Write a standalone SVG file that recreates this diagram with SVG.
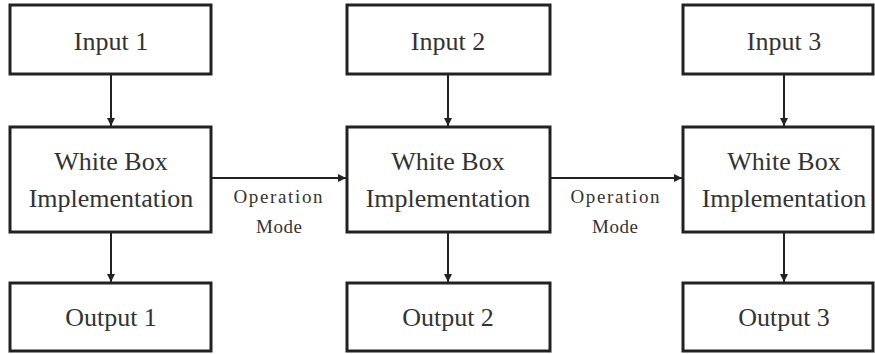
<svg xmlns="http://www.w3.org/2000/svg" width="875" height="354" viewBox="0 0 875 354" font-family="Liberation Serif, DejaVu Serif, serif">
<style>
.box{fill:#fff;stroke:#222;stroke-width:3}
.t{font-size:26px;fill:#333;text-anchor:middle}
.s{font-size:19px;fill:#333;text-anchor:middle}
.c{stroke:#222;stroke-width:2;fill:none;marker-end:url(#ah)}
</style>
<defs>
<marker id="ah" viewBox="0 0 10 10" refX="10" refY="5" markerWidth="4" markerHeight="4" orient="auto" markerUnits="strokeWidth">
<path d="M0,0 L10,5 L0,10 z" fill="#222"/>
</marker>
</defs>
<rect width="875" height="354" fill="#fff"/>
<g id="connectors">
<line class="c" x1="111" y1="74" x2="111" y2="126"/>
<line class="c" x1="111" y1="232" x2="111" y2="282"/>
<line class="c" x1="448" y1="74" x2="448" y2="126"/>
<line class="c" x1="448" y1="232" x2="448" y2="282"/>
<line class="c" x1="784" y1="74" x2="784" y2="126"/>
<line class="c" x1="784" y1="232" x2="784" y2="282"/>
<line class="c" x1="212" y1="178" x2="346" y2="178"/>
<line class="c" x1="550" y1="178" x2="682" y2="178"/>
<text class="s" x="278" y="203" textLength="89">Operation</text>
<text class="s" x="279" y="233" textLength="46">Mode</text>
<text class="s" x="615" y="203" textLength="89">Operation</text>
<text class="s" x="615" y="233" textLength="46">Mode</text>
</g>
<g id="input1"><rect class="box" x="10" y="5" width="201" height="69"/><text class="t" x="111" y="50">Input 1</text></g>
<g id="wb1"><rect class="box" x="10" y="127" width="201" height="105"/><text class="t" x="111" y="170">White Box</text><text class="t" x="111" y="207">Implementation</text></g>
<g id="output1"><rect class="box" x="10" y="283" width="201" height="68"/><text class="t" x="111" y="326">Output 1</text></g>
<g id="input2"><rect class="box" x="347" y="5" width="203" height="69"/><text class="t" x="448" y="50">Input 2</text></g>
<g id="wb2"><rect class="box" x="347" y="127" width="203" height="105"/><text class="t" x="448" y="170">White Box</text><text class="t" x="448" y="207">Implementation</text></g>
<g id="output2"><rect class="box" x="347" y="283" width="203" height="68"/><text class="t" x="448" y="326">Output 2</text></g>
<g id="input3"><rect class="box" x="683" y="5" width="190" height="69"/><text class="t" x="784" y="50">Input 3</text></g>
<g id="wb3"><rect class="box" x="683" y="127" width="190" height="105"/><text class="t" x="784" y="170">White Box</text><text class="t" x="784" y="207">Implementation</text></g>
<g id="output3"><rect class="box" x="683" y="283" width="190" height="68"/><text class="t" x="784" y="326">Output 3</text></g>
</svg>
